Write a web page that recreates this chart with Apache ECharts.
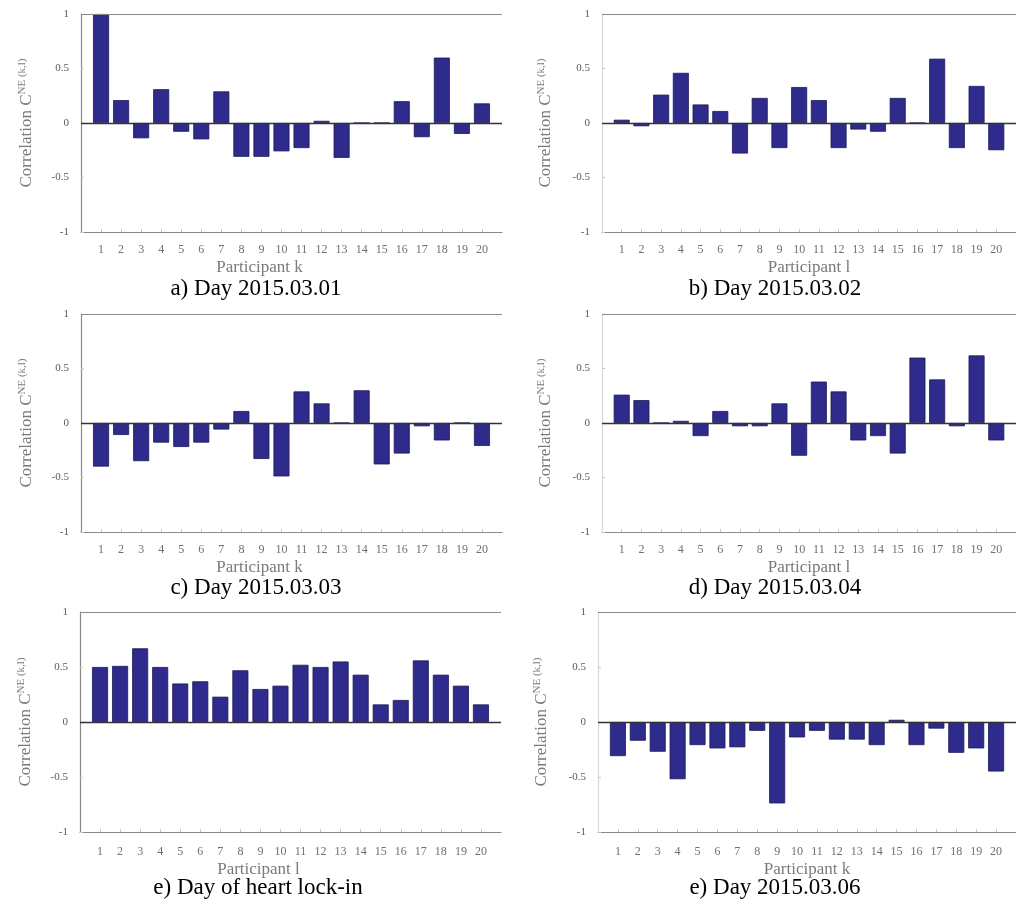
<!DOCTYPE html>
<html>
<head>
<meta charset="utf-8">
<script src="https://cdn.jsdelivr.net/npm/echarts@6/dist/echarts.min.js"></script>
<style>html,body{margin:0;padding:0;background:#fff;}#c{width:1016px;height:905px;}</style>
</head>
<body>
<div id="c"></div>
<script>
// ---- data ----
const participants = [1,2,3,4,5,6,7,8,9,10,11,12,13,14,15,16,17,18,19,20];
const dayA = [1.00, 0.21, -0.14, 0.31, -0.08, -0.15, 0.29, -0.31, -0.31, -0.26, -0.23, 0.02, -0.32, 0, 0, 0.20, -0.13, 0.60, -0.10, 0.18];
const dayB = [0.03, -0.03, 0.26, 0.46, 0.17, 0.11, -0.28, 0.23, -0.23, 0.33, 0.21, -0.23, -0.06, -0.08, 0.23, 0, 0.59, -0.23, 0.34, -0.25];
const dayC = [-0.40, -0.11, -0.35, -0.18, -0.22, -0.18, -0.06, 0.11, -0.33, -0.49, 0.29, 0.18, 0, 0.30, -0.38, -0.28, -0.03, -0.16, 0, -0.21];
const dayD = [0.26, 0.21, 0, 0.02, -0.12, 0.11, -0.03, -0.03, 0.18, -0.30, 0.38, 0.29, -0.16, -0.12, -0.28, 0.60, 0.40, -0.03, 0.62, -0.16];
const dayE = [0.50, 0.51, 0.67, 0.50, 0.35, 0.37, 0.23, 0.47, 0.30, 0.33, 0.52, 0.50, 0.55, 0.43, 0.16, 0.20, 0.56, 0.43, 0.33, 0.16];
const dayF = [-0.31, -0.17, -0.27, -0.52, -0.21, -0.24, -0.23, -0.08, -0.74, -0.14, -0.08, -0.16, -0.16, -0.21, 0.02, -0.21, -0.06, -0.28, -0.24, -0.45];
const yTicks = [-1, -0.5, 0, 0.5, 1];
const captions = ['a) Day 2015.03.01', 'b) Day 2015.03.02', 'c) Day 2015.03.03', 'd) Day 2015.03.04', 'e) Day of heart lock-in', 'e) Day 2015.03.06'];
const xNames = ['Participant k', 'Participant l', 'Participant k', 'Participant l', 'Participant l', 'Participant k'];
const yName = '{n|Correlation }{n|C}{s|NE (k,l)}';

// ---- layout ----
const panels = [
  {data: dayA, grid: {left: 81, top: 14, width: 421, height: 218}, cap: [256, 289], nameGap: 27, labelMargin: 12, shift: 64, yGap: 44},
  {data: dayB, grid: {left: 602, top: 14, width: 420, height: 218}, cap: [775, 289], nameGap: 27, labelMargin: 12, shift: 0, yGap: 46},
  {data: dayC, grid: {left: 81, top: 314, width: 421, height: 218}, cap: [256, 588], nameGap: 27, labelMargin: 12, shift: 64, yGap: 44},
  {data: dayD, grid: {left: 602, top: 314, width: 420, height: 218}, cap: [775, 588], nameGap: 27, labelMargin: 12, shift: 0, yGap: 46},
  {data: dayE, grid: {left: 80, top: 612, width: 421, height: 220}, cap: [258, 888], nameGap: 29, labelMargin: 14, shift: 64, yGap: 44},
  {data: dayF, grid: {left: 598, top: 612, width: 422, height: 220}, cap: [775, 888], nameGap: 29, labelMargin: 14, shift: 0, yGap: 46}
];

const serif = 'Liberation Serif, DejaVu Serif, serif';
const grey = '#6f6f6f';
const barColor = '#2e2b8c';

const option = {
  animation: false,
  backgroundColor: '#ffffff',
  grid: panels.map(p => Object.assign({containLabel: false}, p.grid)),
  xAxis: panels.map((p, i) => ({
    type: 'value', gridIndex: i, min: 0, max: 21, interval: 1,
    name: xNames[i], nameLocation: 'middle', nameGap: p.nameGap,
    nameTextStyle: {fontFamily: serif, fontSize: 17, color: '#7a7a7a', padding: [0, p.shift, 0, 0]},
    axisLine: {show: true, onZero: false, lineStyle: {color: '#8a8a8a', width: 1.2}},
    axisTick: {show: true, inside: true, length: 3, lineStyle: {color: '#c8c8c8'}},
    splitLine: {show: false},
    axisLabel: {
      margin: p.labelMargin, fontFamily: serif, fontSize: 12, color: grey,
      formatter: v => (participants.indexOf(v) >= 0 ? String(v) : ''),
      showMinLabel: false, showMaxLabel: false, hideOverlap: false
    }
  })),
  yAxis: panels.map((p, i) => ({
    type: 'value', gridIndex: i, min: yTicks[0], max: yTicks[yTicks.length - 1], interval: 0.5,
    name: yName, nameLocation: 'middle', nameGap: p.yGap, nameRotate: 90,
    nameTextStyle: {
      color: '#7a7a7a',
      rich: {
        n: {fontFamily: serif, fontSize: 17, color: '#7a7a7a'},
        s: {fontFamily: serif, fontSize: 11, color: '#7a7a7a', padding: [0, 0, 9, 0]}
      }
    },
    axisLine: {show: true, lineStyle: {color: i % 2 === 0 ? '#8a8a8a' : '#d8d8d8', width: 1.2}},
    axisTick: {show: true, inside: true, length: 3, lineStyle: {color: '#c8c8c8'}},
    splitLine: {show: false},
    axisLabel: {margin: 12, fontFamily: serif, fontSize: 11, color: '#5a5a5a'}
  })),
  series: panels.map((p, i) => ({
    type: 'bar', xAxisIndex: i, yAxisIndex: i,
    data: participants.map((k, j) => [k, p.data[j]]),
    barWidth: 16,
    itemStyle: {color: barColor, borderColor: '#1c1b55', borderWidth: 0.8},
    markLine: {
      silent: true, symbol: 'none', label: {show: false}, animation: false,
      data: [
        {yAxis: 0, lineStyle: {color: '#333', width: 1.3, type: 'solid'}},
        {yAxis: 1, lineStyle: {color: '#8a8a8a', width: 1.2, type: 'solid'}}
      ]
    }
  })),
  graphic: panels.map((p, i) => ({
    type: 'text', x: p.cap[0], y: p.cap[1],
    style: {text: captions[i], fontFamily: serif, fontSize: 23, fill: '#000', align: 'center', verticalAlign: 'middle'}
  }))
};

const chart = echarts.init(document.getElementById('c'), null, {renderer: 'canvas'});
chart.setOption(option);
</script>
</body>
</html>
